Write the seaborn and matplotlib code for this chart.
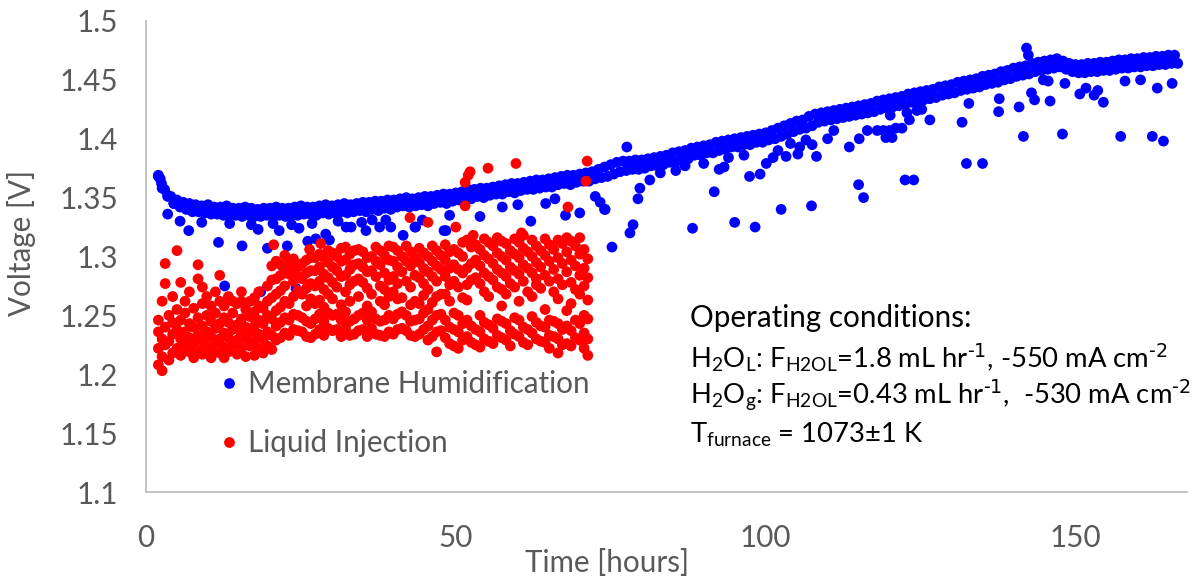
import numpy as np
import pandas as pd
import matplotlib
matplotlib.use("Agg")
import matplotlib.pyplot as plt
import seaborn as sns
from matplotlib.ticker import FuncFormatter

# ---------------- data ----------------
series_names = ["Membrane Humidification", "Liquid Injection"]

# Membrane humidification: main band sampled every hour (upper / lower edge of band)
blue_t = [2, 3, 4, 5, 6, 7, 8, 9, 10, 11, 12, 13, 14, 15, 16, 17, 18, 19, 20, 21,
          22, 23, 24, 25, 26, 27, 28, 29, 30, 31, 32, 33, 34, 35, 36, 37, 38, 39, 40, 41,
          42, 43, 44, 45, 46, 47, 48, 49, 50, 51, 52, 53, 54, 55, 56, 57, 58, 59, 60, 61,
          62, 63, 64, 65, 66, 67, 68, 69, 70, 71, 72, 73, 74, 75, 76, 77, 78, 79, 80, 81,
          82, 83, 84, 85, 86, 87, 88, 89, 90, 91, 92, 93, 94, 95, 96, 97, 98, 99, 100, 101,
          102, 103, 104, 105, 106, 107, 108, 109, 110, 111, 112, 113, 114, 115, 116, 117, 118, 119, 120, 121,
          122, 123, 124, 125, 126, 127, 128, 129, 130, 131, 132, 133, 134, 135, 136, 137, 138, 139, 140, 141,
          142, 143, 144, 145, 146, 147, 148, 149, 150, 151, 152, 153, 154, 155, 156, 157, 158, 159, 160, 161,
          162, 163, 164, 165, 166]
blue_hi = [1.368, 1.357, 1.351, 1.348, 1.346, 1.345, 1.344, 1.343, 1.344, 1.342,
           1.342, 1.343, 1.341, 1.341, 1.342, 1.341, 1.340, 1.341, 1.341, 1.342,
           1.341, 1.341, 1.342, 1.343, 1.342, 1.342, 1.343, 1.344, 1.343, 1.344,
           1.345, 1.344, 1.345, 1.346, 1.346, 1.347, 1.347, 1.348, 1.348, 1.349,
           1.350, 1.349, 1.350, 1.351, 1.351, 1.352, 1.353, 1.353, 1.354, 1.355,
           1.357, 1.357, 1.358, 1.358, 1.359, 1.360, 1.361, 1.362, 1.362, 1.363,
           1.364, 1.365, 1.365, 1.366, 1.367, 1.368, 1.369, 1.369, 1.370, 1.371,
           1.372, 1.374, 1.376, 1.378, 1.380, 1.381, 1.381, 1.382, 1.382, 1.383,
           1.384, 1.385, 1.386, 1.388, 1.389, 1.390, 1.392, 1.393, 1.394, 1.395,
           1.397, 1.398, 1.399, 1.400, 1.401, 1.402, 1.403, 1.404, 1.405, 1.407,
           1.409, 1.411, 1.413, 1.415, 1.416, 1.419, 1.421, 1.422, 1.423, 1.424,
           1.425, 1.426, 1.427, 1.428, 1.429, 1.430, 1.432, 1.433, 1.434, 1.435,
           1.436, 1.438, 1.439, 1.440, 1.441, 1.442, 1.444, 1.445, 1.446, 1.448,
           1.449, 1.450, 1.451, 1.453, 1.454, 1.455, 1.457, 1.458, 1.460, 1.461,
           1.462, 1.464, 1.465, 1.466, 1.467, 1.468, 1.466, 1.464, 1.463, 1.463,
           1.464, 1.464, 1.465, 1.465, 1.466, 1.467, 1.467, 1.468, 1.468, 1.469,
           1.469, 1.470, 1.470, 1.471, 1.471]
blue_lo = [1.362, 1.351, 1.345, 1.342, 1.340, 1.338, 1.338, 1.337, 1.336, 1.336,
           1.335, 1.336, 1.335, 1.334, 1.335, 1.334, 1.334, 1.335, 1.334, 1.335,
           1.334, 1.335, 1.335, 1.336, 1.336, 1.335, 1.337, 1.336, 1.337, 1.338,
           1.337, 1.338, 1.339, 1.338, 1.340, 1.339, 1.341, 1.340, 1.342, 1.343,
           1.342, 1.343, 1.344, 1.343, 1.345, 1.346, 1.345, 1.347, 1.348, 1.349,
           1.349, 1.351, 1.350, 1.352, 1.353, 1.353, 1.355, 1.354, 1.356, 1.357,
           1.357, 1.358, 1.359, 1.359, 1.361, 1.362, 1.361, 1.363, 1.364, 1.364,
           1.366, 1.367, 1.368, 1.370, 1.372, 1.373, 1.374, 1.374, 1.375, 1.377,
           1.377, 1.378, 1.380, 1.380, 1.383, 1.383, 1.386, 1.386, 1.388, 1.388,
           1.390, 1.391, 1.393, 1.393, 1.395, 1.395, 1.397, 1.397, 1.399, 1.400,
           1.402, 1.404, 1.406, 1.408, 1.409, 1.411, 1.414, 1.415, 1.416, 1.417,
           1.418, 1.419, 1.420, 1.421, 1.422, 1.423, 1.425, 1.426, 1.427, 1.428,
           1.429, 1.431, 1.432, 1.433, 1.434, 1.435, 1.437, 1.438, 1.439, 1.441,
           1.442, 1.443, 1.444, 1.446, 1.447, 1.448, 1.450, 1.451, 1.453, 1.454,
           1.455, 1.457, 1.458, 1.459, 1.460, 1.461, 1.459, 1.457, 1.456, 1.456,
           1.457, 1.457, 1.458, 1.458, 1.459, 1.460, 1.460, 1.461, 1.461, 1.462,
           1.462, 1.463, 1.463, 1.464, 1.464]

# Membrane humidification: scattered points off the main band
blue_extra_t = [2.0, 2.3, 2.6, 3.5, 4.5,
                3.5, 6.9, 11.7, 15.5, 12.7, 18.5, 19.6, 22.8, 24.2, 18.1, 24.7, 26.1, 27.4, 29.0, 29.6,
                32.3, 33.1, 35.5, 37.7, 38.7, 39.5, 41.5, 43.5, 44.6, 48.1, 21.5,
                5.5, 9.0, 13.5, 17.0, 20.5, 23.5, 26.8, 31.0, 34.8, 36.5,
                43.4, 48.4, 49.0, 53.9, 62.1, 67.7, 70.0, 74.0, 75.2, 78.1, 78.6, 79.4, 79.7, 77.6,
                57.5, 60.0, 64.5, 66.0, 72.5,
                73.3, 74.1, 81.3, 88.2, 91.7, 92.5, 93.3, 95.0, 97.4, 98.3, 99.1, 100.1, 101.2, 102.0,
                102.5, 103.3, 105.2, 107.4, 108.2, 113.5, 115.0, 115.8, 115.1, 116.4, 118.0, 119.4, 120.0,
                110.0, 111.0, 104.0, 105.5, 106.5, 107.5,
                83.0, 85.5, 87.0, 90.0, 94.0, 96.5,
                119.0, 120.4, 121.0, 122.0, 120.1, 122.8, 123.2, 124.4, 125.2, 126.5, 122.5, 123.9,
                131.7, 132.4, 135.0, 132.8, 137.7, 137.6, 140.9, 141.6, 142.9, 143.4, 144.8, 145.6,
                145.9, 147.9, 148.3, 150.7, 151.7, 153.0, 153.6, 154.5, 157.3, 158.0, 160.5, 162.4,
                163.2, 164.2, 165.6, 142.1, 142.4]
blue_extra_v = [1.369, 1.366, 1.358, 1.352, 1.345,
                1.336, 1.322, 1.312, 1.309, 1.275, 1.270, 1.307, 1.309, 1.273, 1.323, 1.324, 1.313, 1.315, 1.319, 1.314,
                1.325, 1.325, 1.322, 1.325, 1.331, 1.325, 1.318, 1.325, 1.331, 1.322, 1.322,
                1.330, 1.329, 1.328, 1.327, 1.328, 1.327, 1.328, 1.330, 1.329, 1.331,
                1.325, 1.322, 1.335, 1.334, 1.330, 1.335, 1.337, 1.340, 1.308, 1.320, 1.327, 1.349, 1.358, 1.393,
                1.342, 1.344, 1.345, 1.349, 1.351,
                1.346, 1.340, 1.365, 1.324, 1.355, 1.374, 1.376, 1.329, 1.368, 1.325, 1.370, 1.379, 1.384, 1.390,
                1.340, 1.385, 1.387, 1.343, 1.385, 1.393, 1.361, 1.350, 1.400, 1.407, 1.407, 1.401, 1.407,
                1.400, 1.407, 1.396, 1.393, 1.399, 1.395,
                1.371, 1.373, 1.377, 1.379, 1.384, 1.386,
                1.407, 1.401, 1.409, 1.409, 1.420, 1.422, 1.416, 1.424, 1.425, 1.416, 1.365, 1.365,
                1.414, 1.379, 1.379, 1.430, 1.434, 1.423, 1.427, 1.402, 1.439, 1.433, 1.450, 1.449,
                1.432, 1.404, 1.447, 1.438, 1.443, 1.437, 1.441, 1.431, 1.402, 1.449, 1.450, 1.402,
                1.443, 1.398, 1.447, 1.477, 1.471]

# Liquid injection: readings grouped by time (hours) -> voltages
red_t = [2.0, 2.6, 3.1, 3.7, 4.3, 5.0, 5.6, 6.3, 7.0, 7.7, 8.4, 9.1, 9.8, 10.5, 11.2, 11.9,
         12.6, 13.3, 14.0, 14.7, 15.4, 16.1, 16.8, 17.5, 18.2, 18.9, 19.6, 20.3,
         21.0, 22.4, 21.7, 23.8, 23.1, 24.5, 26.6, 25.2, 25.9, 28.0, 27.3, 29.4, 28.7, 30.1,
         31.5, 30.8, 33.6, 32.2, 32.9, 34.3, 35.7, 35.0, 37.1, 36.4, 37.8, 39.2, 38.5, 40.6,
         39.9, 41.3, 42.7, 42.0, 43.4, 44.8, 44.1, 45.5, 46.9, 46.2, 47.6,
         49.0, 48.3, 49.7, 51.1, 50.4, 52.5, 51.8, 53.2, 54.6, 53.9, 55.3, 56.7, 56.0, 57.4,
         58.8, 58.1, 59.5, 60.9, 60.2, 61.6, 63.0, 62.3, 63.7, 65.1, 64.4, 65.8, 67.2, 66.5,
         67.9, 69.3, 68.6, 70.0, 70.7, 71.3]
red_v = [
    [1.208, 1.222, 1.236, 1.246],
    [1.203, 1.215, 1.230, 1.262],
    [1.225, 1.240, 1.277, 1.294],
    [1.212, 1.228, 1.250],
    [1.218, 1.234, 1.244, 1.266],
    [1.222, 1.238, 1.255, 1.305],
    [1.216, 1.230, 1.246, 1.278],
    [1.224, 1.236, 1.252, 1.262],
    [1.219, 1.231, 1.243, 1.270],
    [1.214, 1.226, 1.240, 1.256],
    [1.221, 1.233, 1.248, 1.281, 1.293],
    [1.217, 1.229, 1.241, 1.260, 1.274],
    [1.224, 1.236, 1.250, 1.266],
    [1.214, 1.220, 1.232, 1.245, 1.258],
    [1.226, 1.239, 1.252, 1.270],
    [1.218, 1.230, 1.243, 1.262, 1.284],
    [1.214, 1.223, 1.235, 1.248, 1.258],
    [1.219, 1.231, 1.244, 1.266],
    [1.225, 1.238, 1.252, 1.262],
    [1.217, 1.229, 1.242, 1.260],
    [1.222, 1.234, 1.247, 1.262, 1.270],
    [1.215, 1.230, 1.240, 1.255],
    [1.224, 1.236, 1.249, 1.262],
    [1.216, 1.228, 1.241, 1.253, 1.265],
    [1.222, 1.234, 1.246, 1.258, 1.270],
    [1.218, 1.230, 1.243, 1.256],
    [1.224, 1.236, 1.250, 1.262, 1.275],
    [1.221, 1.233, 1.247, 1.265, 1.280, 1.292],
    [1.229, 1.241, 1.254, 1.268, 1.281, 1.296],
    [1.235, 1.248, 1.262, 1.275, 1.289, 1.301],
    [1.231, 1.244, 1.257, 1.271, 1.284, 1.293],
    [1.238, 1.251, 1.266, 1.279, 1.290, 1.298],
    [1.233, 1.246, 1.260, 1.285, 1.296],
    [1.237, 1.250, 1.271, 1.283, 1.291],
    [1.231, 1.243, 1.264, 1.277, 1.288, 1.299],
    [1.236, 1.248, 1.268, 1.281, 1.294],
    [1.232, 1.245, 1.258, 1.273, 1.286, 1.297],
    [1.238, 1.251, 1.263, 1.279, 1.291, 1.302],
    [1.234, 1.247, 1.260, 1.275, 1.288, 1.299],
    [1.239, 1.252, 1.268, 1.282, 1.295, 1.305],
    [1.233, 1.245, 1.257, 1.272, 1.285, 1.299],
    [1.237, 1.250, 1.264, 1.278, 1.291, 1.303],
    [1.232, 1.246, 1.259, 1.283, 1.296, 1.307],
    [1.238, 1.251, 1.274, 1.288, 1.300],
    [1.234, 1.247, 1.279, 1.293, 1.305],
    [1.239, 1.253, 1.270, 1.284, 1.297, 1.308],
    [1.233, 1.245, 1.262, 1.276, 1.289, 1.302],
    [1.237, 1.250, 1.266, 1.281, 1.294, 1.306],
    [1.232, 1.246, 1.258, 1.273, 1.287, 1.299],
    [1.238, 1.252, 1.278, 1.291, 1.304],
    [1.234, 1.247, 1.283, 1.296, 1.308],
    [1.239, 1.253, 1.268, 1.288, 1.300],
    [1.233, 1.245, 1.262, 1.275, 1.293, 1.305],
    [1.236, 1.250, 1.266, 1.280, 1.297, 1.309],
    [1.232, 1.246, 1.259, 1.272, 1.286, 1.301],
    [1.238, 1.251, 1.264, 1.277, 1.291, 1.305],
    [1.234, 1.247, 1.270, 1.283, 1.296, 1.308],
    [1.239, 1.253, 1.265, 1.287, 1.300],
    [1.233, 1.245, 1.259, 1.274, 1.292, 1.304],
    [1.237, 1.250, 1.279, 1.296, 1.309],
    [1.232, 1.246, 1.262, 1.284, 1.299],
    [1.238, 1.252, 1.267, 1.277, 1.290, 1.303],
    [1.234, 1.247, 1.260, 1.282, 1.295, 1.307],
    [1.229, 1.241, 1.255, 1.272, 1.287, 1.300],
    [1.219, 1.236, 1.250, 1.266, 1.279, 1.292, 1.305],
    [1.232, 1.246, 1.261, 1.283, 1.296, 1.309],
    [1.237, 1.251, 1.268, 1.289, 1.301],
    [1.226, 1.240, 1.262, 1.276, 1.290, 1.304],
    [1.231, 1.246, 1.268, 1.283, 1.297, 1.310],
    [1.224, 1.238, 1.252, 1.279, 1.293, 1.306],
    [1.229, 1.243, 1.265, 1.286, 1.300, 1.312],
    [1.222, 1.236, 1.250, 1.274, 1.289, 1.303],
    [1.227, 1.241, 1.280, 1.294, 1.308],
    [1.232, 1.246, 1.263, 1.276, 1.290, 1.314],
    [1.225, 1.238, 1.282, 1.297, 1.310],
    [1.230, 1.244, 1.270, 1.286, 1.301, 1.315],
    [1.223, 1.236, 1.250, 1.277, 1.292, 1.306],
    [1.228, 1.242, 1.266, 1.283, 1.298, 1.312],
    [1.233, 1.247, 1.274, 1.289, 1.303, 1.316],
    [1.226, 1.239, 1.280, 1.294, 1.309],
    [1.231, 1.245, 1.258, 1.272, 1.286, 1.300, 1.313],
    [1.224, 1.237, 1.277, 1.291, 1.305],
    [1.229, 1.243, 1.268, 1.283, 1.297, 1.311],
    [1.234, 1.248, 1.274, 1.288, 1.302, 1.315],
    [1.227, 1.240, 1.279, 1.293, 1.307, 1.318],
    [1.232, 1.246, 1.262, 1.285, 1.299, 1.312],
    [1.225, 1.238, 1.270, 1.290, 1.304],
    [1.230, 1.244, 1.276, 1.281, 1.295, 1.309],
    [1.235, 1.249, 1.266, 1.286, 1.300, 1.314],
    [1.228, 1.241, 1.273, 1.291, 1.305],
    [1.222, 1.233, 1.246, 1.279, 1.296, 1.310],
    [1.227, 1.240, 1.255, 1.284, 1.301, 1.315],
    [1.232, 1.245, 1.270, 1.289, 1.306],
    [1.225, 1.238, 1.276, 1.294, 1.311],
    [1.218, 1.230, 1.243, 1.264, 1.281, 1.299, 1.314],
    [1.226, 1.241, 1.254, 1.287, 1.304, 1.316],
    [1.231, 1.246, 1.272, 1.292, 1.309],
    [1.224, 1.237, 1.260, 1.278, 1.297, 1.313],
    [1.229, 1.243, 1.268, 1.284, 1.302, 1.316],
    [1.222, 1.235, 1.250, 1.275, 1.290, 1.306],
    [1.216, 1.230, 1.247, 1.263, 1.282, 1.298],
]
# Liquid injection: isolated high readings
red_extra_t = [20.6, 26.4, 28.2, 42.6, 45.5, 50.0, 51.5, 51.5, 52.0, 52.3, 55.2, 59.7,
               71.2, 71.0, 68.1, 60.6, 52.8]
red_extra_v = [1.310, 1.306, 1.311, 1.333, 1.329, 1.325, 1.343, 1.363, 1.369, 1.372, 1.375, 1.379,
               1.381, 1.364, 1.342, 1.320, 1.318]

x_ticks = [0, 50, 100, 150]
y_ticks = [1.1, 1.15, 1.2, 1.25, 1.3, 1.35, 1.4, 1.45, 1.5]

# ---------------- build table ----------------
rows = []
for t, hi, lo in zip(blue_t, blue_hi, blue_lo):
    rows.append((t, hi, series_names[0]))
    rows.append((t + 0.5, lo, series_names[0]))
for t, v in zip(blue_extra_t, blue_extra_v):
    rows.append((t, v, series_names[0]))
for t, vs in zip(red_t, red_v):
    for v in vs:
        rows.append((t, v, series_names[1]))
for t, v in zip(red_extra_t, red_extra_v):
    rows.append((t, v, series_names[1]))
df = pd.DataFrame(rows, columns=["Time", "Voltage", "Series"])

# ---------------- style ----------------
sns.set_theme(style="white")
plt.rcParams["font.family"] = ["Lato", "DejaVu Sans"]
plt.rcParams["mathtext.default"] = "regular"
GRAY = "#595959"
SPINE = "#BFBFBF"
FS = 21.3
FS_NOTE = 19.7

fig = plt.figure(figsize=(12.04, 5.81), dpi=100)
ax = fig.add_axes([146 / 1204, 1 - 492 / 581, (1187 - 146) / 1204, (492 - 21) / 581])

sns.scatterplot(data=df, x="Time", y="Voltage", hue="Series", hue_order=series_names,
                palette=["#0000FF", "#FF0000"], s=60, linewidth=0, alpha=1, ax=ax)

ax.set_xlim(0, 168)
ax.set_ylim(1.1, 1.5)
ax.set_xticks(x_ticks)
ax.set_yticks(y_ticks)
ax.yaxis.set_major_formatter(FuncFormatter(lambda v, p: f"{v:g}"))
ax.tick_params(axis="both", length=0, labelsize=FS, labelcolor=GRAY)
ax.tick_params(axis="y", pad=20)
ax.tick_params(axis="x", pad=23)
for side in ["top", "right"]:
    ax.spines[side].set_visible(False)
for side in ["left", "bottom"]:
    ax.spines[side].set_color(SPINE)
    ax.spines[side].set_linewidth(1.3)
ax.grid(False)

ax.set_xlabel("Time [hours]", fontsize=FS, color=GRAY, va="center")
ax.xaxis.set_label_coords((607 - 146) / 1041, 1 - (563 - 21) / 471)
ax.set_ylabel("Voltage [V]", fontsize=FS, color=GRAY, va="center")
ax.yaxis.set_label_coords((22 - 146) / 1041, 1 - (243 - 21) / 471)

handles, labels = ax.get_legend_handles_labels()
leg = ax.legend(handles, labels, loc="upper left", bbox_to_anchor=(0.0686, 0.259),
                frameon=False, fontsize=FS, labelcolor=GRAY, handlelength=0.8,
                handletextpad=0.23, labelspacing=1.06, borderpad=0, borderaxespad=0,
                markerscale=1.0)

lines = [
    "Operating conditions:",
    r"H$_2$O$_L$: F$_{H2OL}$=1.8 mL hr$^{\text{-1}}$, -550 mA cm$^{\text{-2}}$",
    r"H$_2$O$_g$: F$_{H2OL}$=0.43 mL hr$^{\text{-1}}$,  -530 mA cm$^{\text{-2}}$",
    r"T$_{furnace}$ = 1073±1 K",
]
sizes = [FS, FS_NOTE, FS_NOTE, FS_NOTE]
ys = [318, 358, 396, 435]
for s_, fs_, yp in zip(lines, sizes, ys):
    fig.text(690 / 1204, 1 - yp / 581, s_, fontsize=fs_, color="black", ha="left", va="center")

fig.savefig("out.png", dpi=100)
